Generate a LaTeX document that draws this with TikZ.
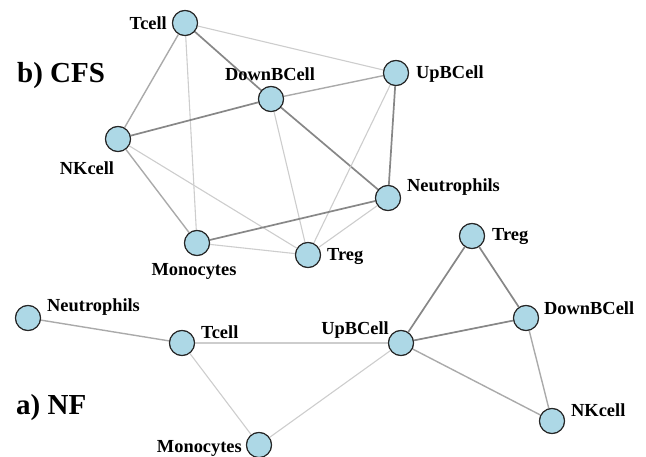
\documentclass[tikz,border=0pt]{standalone}
\usepackage{fontspec}
\setmainfont{Liberation Serif}
\definecolor{cellblue}{RGB}{173,216,230}
\definecolor{elight}{RGB}{205,205,205}
\definecolor{emid}{RGB}{170,170,170}
\definecolor{edark}{RGB}{135,135,135}
\tikzset{
  cell/.style={circle, draw=black!85, fill=cellblue, line width=1.1pt, minimum size=25pt, inner sep=0pt},
  lab/.style={font=\fontsize{18.4}{18.4}\selectfont\bfseries, inner sep=0pt},
  ttl/.style={font=\fontsize{29}{29}\selectfont\bfseries, inner sep=0pt},
  el/.style={draw=elight, line width=1.1pt},
  em/.style={draw=emid, line width=1.4pt},
  ed/.style={draw=edark, line width=1.7pt},
}
\begin{document}
\begin{tikzpicture}[x=1pt,y=-1pt]
\useasboundingbox (0,0) rectangle (646,457);
% ---------- CFS ----------
\node[cell] (cT) at (185,23) {};
\node[cell] (cD) at (271,99) {};
\node[cell] (cU) at (396,73) {};
\node[cell] (cNK) at (118,139) {};
\node[cell] (cNe) at (388,198) {};
\node[cell] (cM) at (197,243) {};
\node[cell] (cTr) at (308,255) {};
% ---------- NF ----------
\node[cell] (nNe) at (28,318) {};
\node[cell] (nT) at (182,343) {};
\node[cell] (nU) at (401,343) {};
\node[cell] (nTr) at (472,236) {};
\node[cell] (nD) at (526,318) {};
\node[cell] (nNK) at (552,421) {};
\node[cell] (nM) at (259,445) {};
% edges CFS
\draw[el] (cT) -- (cU);
\draw[ed] (cT) -- (cD);
\draw[em] (cT) -- (cNK);
\draw[el] (cT) -- (cM);
\draw[ed] (cNK) -- (cD);
\draw[em] (cD) -- (cU);
\draw[ed] (cD) -- (cNe);
\draw[el] (cD) -- (cTr);
\draw[ed] (cU) -- (cNe);
\draw[el] (cU) -- (cTr);
\draw[em] (cNK) -- (cM);
\draw[el] (cNK) -- (cTr);
\draw[ed] (cM) -- (cNe);
\draw[el] (cM) -- (cTr);
\draw[el] (cNe) -- (cTr);
% edges NF
\draw[em] (nNe) -- (nT);
\draw[el] (nT) -- (nU);
\draw[el] (nT) -- (nM);
\draw[el] (nM) -- (nU);
\draw[ed] (nU) -- (nTr);
\draw[ed] (nU) -- (nD);
\draw[em] (nU) -- (nNK);
\draw[ed] (nTr) -- (nD);
\draw[em] (nD) -- (nNK);
% redraw nodes on top
\foreach \n in {cT,cD,cU,cNK,cNe,cM,cTr,nNe,nT,nU,nTr,nD,nNK,nM}{
  \path (\n) node[cell] {};
}
% labels CFS
\node[ttl, anchor=west] (tb) at (17,76) {b) CFS};
\node[lab, anchor=east] (lcT) at (167,23) {Tcell};
\node[lab] (lcD) at (270,74) {DownBCell};
\node[lab, anchor=west] (lcU) at (416,74) {UpBCell};
\node[lab] (lcNK) at (87,168) {NKcell};
\node[lab, anchor=west] (lcNe) at (407,187) {Neutrophils};
\node[lab] (lcM) at (194,271) {Monocytes};
\node[lab, anchor=west] (lcTr) at (327,257) {Treg};
% labels NF
\node[ttl, anchor=west] (ta) at (16,408) {a) NF};
\node[lab, anchor=west] (lnNe) at (47,307) {Neutrophils};
\node[lab, anchor=west] (lnT) at (201,332) {Tcell};
\node[lab, anchor=east] (lnU) at (389,330) {UpBCell};
\node[lab, anchor=west] (lnTr) at (492,237) {Treg};
\node[lab, anchor=west] (lnD) at (544,308) {DownBCell};
\node[lab, anchor=west] (lnNK) at (571,410) {NKcell};
\node[lab, anchor=east] (lnM) at (242,448) {Monocytes};
\end{tikzpicture}
\end{document}
